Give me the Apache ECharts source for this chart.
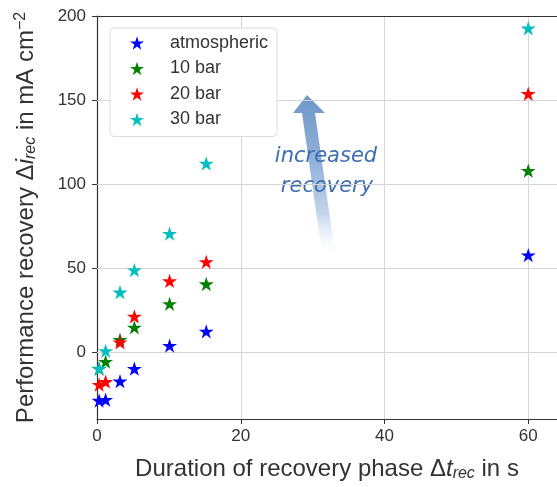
<!DOCTYPE html>
<html>
<head>
<meta charset="utf-8">
<script src="https://cdn.jsdelivr.net/npm/echarts@6/dist/echarts.min.js"></script>
<style>
  html, body { margin: 0; padding: 0; background: #fff; }
  #chart { width: 557px; height: 487px; }
</style>
</head>
<body>
<div id="chart"></div>
<script>
// recovery durations (s) per measured point
const durations = [0.3, 1.2, 3.2, 5.2, 10.1, 15.2, 60]
const seriesNames = ['atmospheric', '10 bar', '20 bar', '30 bar']
const seriesColors = ['#0000ff', '#008000', '#ff0000', '#00bfbf']

// performance recovery in mA cm^-2
const atmospheric = [-29, -28.5, -17.5, -10, 3.7, 12.2, 57.6]
const bar10 = [-10, -5.8, 7.3, 14.6, 28.6, 40.4, 107.9]
const bar20 = [-19.5, -17.8, 5.7, 21.1, 42.2, 53.6, 153.7]
const bar30 = [-9.9, 0.6, 35.5, 48.7, 70.4, 112.2, 192.7]
const values = [atmospheric, bar10, bar20, bar30]

const xTicks = [0, 20, 40, 60]
const yTicks = [0, 50, 100, 150, 200]

const star = 'path://M50 0 L61.17 34.63 L97.55 34.55 L68.07 55.87 L79.39 90.45 L50 69 L20.61 90.45 L31.93 55.87 L2.45 34.55 L38.83 34.63 Z'
const font = 'Liberation Sans'

const chart = echarts.init(document.getElementById('chart'))

const series = seriesNames.map((name, i) => ({
  name: name,
  type: 'scatter',
  symbol: star,
  symbolKeepAspect: true,
  symbolSize: 15,
  itemStyle: { color: seriesColors[i], opacity: 1 },
  data: durations.map((d, j) => [d, values[i][j]]),
  z: 5
}))

// horizontal grid lines at the labelled y ticks
series.push({
  type: 'scatter',
  data: [],
  silent: true,
  markLine: {
    silent: true,
    symbol: 'none',
    label: { show: false },
    lineStyle: { color: '#d6d6d6', type: 'solid', width: 1 },
    data: yTicks.slice(0, -1).map(v => ({ yAxis: v }))
  }
})

chart.setOption({
  animation: false,
  grid: { left: 97, top: 16, right: 0, bottom: 65 },
  legend: {
    data: seriesNames,
    orient: 'vertical',
    left: 110,
    top: 28,
    z: 20,
    icon: star,
    itemWidth: 14,
    itemHeight: 14,
    itemGap: 5.5,
    padding: [5, 9, 7, 20],
    backgroundColor: '#fff',
    borderColor: '#dcdcdc',
    borderWidth: 1,
    borderRadius: 4,
    textStyle: { fontFamily: font, fontSize: 18, lineHeight: 20, color: '#333', padding: [0, 0, 0, 21] }
  },
  xAxis: [{
    type: 'value',
    min: 0,
    max: 64,
    interval: 20,
    name: 'Duration of recovery phase Δ{it|t}{sub|rec} in s',
    nameLocation: 'middle',
    nameGap: 38,
    nameTextStyle: {
      fontFamily: font, fontSize: 24, color: '#333',
      rich: {
        it: { fontFamily: font, fontSize: 24, fontStyle: 'italic', color: '#333' },
        sub: { fontFamily: font, fontSize: 16, fontStyle: 'italic', color: '#333', padding: [9, 0, 0, 0] }
      }
    },
    axisLine: { onZero: false, lineStyle: { color: '#333', width: 1.2 } },
    axisTick: { show: true, length: 5, lineStyle: { color: '#333' } },
    axisLabel: { fontFamily: font, fontSize: 17, color: '#333', margin: 9, showMaxLabel: false,
      formatter: v => (xTicks.includes(v) ? String(v) : '') },
    splitLine: { show: true, lineStyle: { color: '#d6d6d6' } }
  }, {
    type: 'value',
    position: 'top',
    min: 0,
    max: 64,
    axisLine: { show: true, onZero: false, lineStyle: { color: '#333', width: 1.2 } },
    axisTick: { show: false },
    axisLabel: { show: false },
    splitLine: { show: false }
  }],
  yAxis: {
    type: 'value',
    min: -40,
    max: 200,
    name: 'Performance recovery Δ{it|i}{sub|rec} in mA cm{sup|−2}',
    nameLocation: 'middle',
    nameRotate: 90,
    nameGap: 57,
    nameTextStyle: {
      fontFamily: font, fontSize: 24, color: '#333',
      rich: {
        it: { fontFamily: font, fontSize: 24, fontStyle: 'italic', color: '#333' },
        sub: { fontFamily: font, fontSize: 16, fontStyle: 'italic', color: '#333', padding: [9, 0, 0, 0] },
        sup: { fontFamily: font, fontSize: 16, color: '#333', padding: [0, 0, 11, 0] }
      }
    },
    axisLine: { show: true, onZero: false, lineStyle: { color: '#333', width: 1.2 } },
    axisTick: { show: true, length: 5, customValues: yTicks, lineStyle: { color: '#333' } },
    axisLabel: { fontFamily: font, fontSize: 17, color: '#333', margin: 11, customValues: yTicks },
    splitLine: { show: false }
  },
  graphic: [
    {
      type: 'polygon',
      silent: true,
      z: 3,
      shape: {
        points: [[307, 95], [325, 113], [315, 113], [335, 253], [322, 253], [302, 113], [293, 113]]
      },
      style: {
        fill: new echarts.graphic.LinearGradient(0, 0, 0, 1, [
          { offset: 0, color: '#6f97c9' },
          { offset: 0.4, color: '#8eafd8' },
          { offset: 0.75, color: '#c3d4ea' },
          { offset: 1, color: 'rgba(255,255,255,0.3)' }
        ])
      }
    },
    {
      type: 'text',
      silent: true,
      z: 4,
      x: 326,
      y: 157,
      style: { text: 'increased', fontFamily: 'DejaVu Sans', fontStyle: 'italic', fontSize: 21,
        fill: '#3f6fb0', align: 'center', verticalAlign: 'middle' }
    },
    {
      type: 'text',
      silent: true,
      z: 4,
      x: 327,
      y: 187,
      style: { text: 'recovery', fontFamily: 'DejaVu Sans', fontStyle: 'italic', fontSize: 21,
        fill: '#3f6fb0', align: 'center', verticalAlign: 'middle' }
    }
  ],
  series: series
})
</script>
</body>
</html>
